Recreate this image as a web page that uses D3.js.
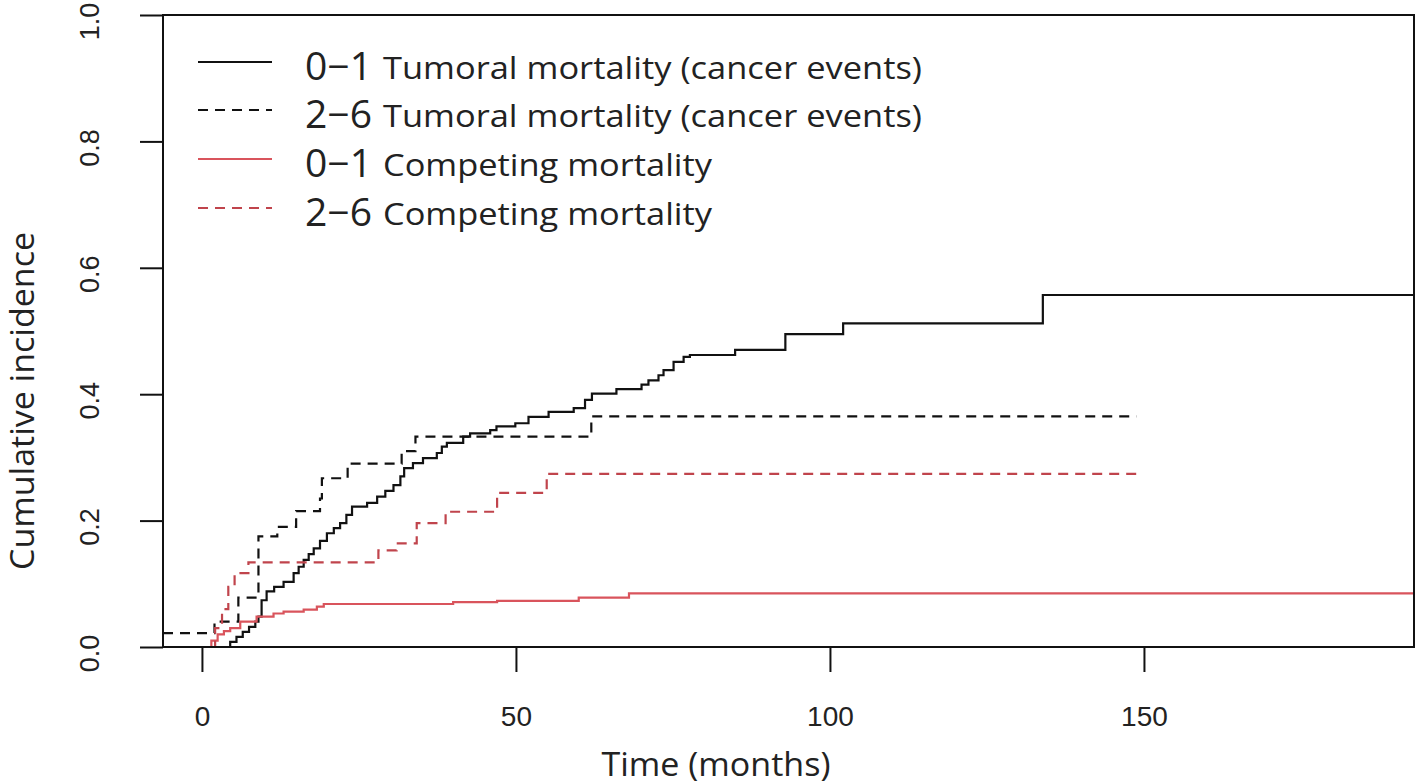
<!DOCTYPE html>
<html>
<head>
<meta charset="utf-8">
<script src="https://cdn.jsdelivr.net/npm/d3@7"></script>
<style>
  body { margin: 0; background: #fff; }
  svg { display: block; }
</style>
</head>
<body>
<svg id="chart" width="1418" height="784"></svg>
<script>
// step curves: [time in months, cumulative incidence]
const tumoral01 = [
  [3.5, 0], [4.5, 0.008], [5.5, 0.016], [6.5, 0.024], [7.5, 0.032], [8.5, 0.04],
  [9.0, 0.048], [9.5, 0.074], [10.3, 0.088], [11.5, 0.095], [13, 0.103],
  [14.6, 0.117], [15.4, 0.127], [16.2, 0.138], [17.0, 0.147], [17.8, 0.156],
  [18.8, 0.168], [19.9, 0.18], [21, 0.188], [22, 0.196], [23, 0.209],
  [23.9, 0.222], [26.3, 0.228], [27.9, 0.238], [29.2, 0.247], [30.5, 0.256],
  [31.6, 0.27], [32.2, 0.283], [33.6, 0.291], [35.2, 0.299], [37.4, 0.307],
  [38.2, 0.317], [39, 0.323], [41.6, 0.333], [42.7, 0.338], [45.9, 0.343],
  [46.9, 0.349], [49.9, 0.354], [52, 0.364], [55.2, 0.372], [59.2, 0.378],
  [61, 0.391], [62.1, 0.401], [66, 0.408], [70, 0.415], [71.1, 0.422],
  [72.7, 0.43], [73.5, 0.438], [75.1, 0.451], [76.7, 0.459], [77.7, 0.462],
  [84.9, 0.47], [92.9, 0.495], [102.1, 0.512], [133.9, 0.557], [193, 0.557]
];
const tumoral26 = [
  [-6.2, 0.022], [2.0, 0.04], [5.8, 0.078], [9.0, 0.175], [12, 0.19],
  [15, 0.215], [18.8, 0.235], [19.1, 0.267], [23.2, 0.29], [31.8, 0.31],
  [34, 0.333], [62, 0.365], [148.8, 0.365]
];
const competing01 = [
  [0, 0], [1.5, 0.01], [2.5, 0.02], [3.5, 0.025], [4.5, 0.03], [6.1, 0.04],
  [8.7, 0.048], [11.4, 0.053], [13, 0.056], [16.2, 0.059], [18.3, 0.064],
  [19.4, 0.068], [40, 0.071], [47, 0.073], [60, 0.078], [68, 0.085], [193, 0.085]
];
const competing26 = [
  [1.5, 0], [2.1, 0.03], [3.2, 0.06], [4.2, 0.095], [5.2, 0.117], [7.4, 0.134],
  [28.1, 0.153], [31, 0.164], [34.2, 0.196], [38.8, 0.214], [47, 0.244],
  [54.9, 0.274], [148.8, 0.274]
];

const groups = ["0\u22121", "2\u22126", "0\u22121", "2\u22126"];
const causes = [
  "Tumoral mortality (cancer events)",
  "Tumoral mortality (cancer events)",
  "Competing mortality",
  "Competing mortality"
];
const xTicks = [0, 50, 100, 150];
const yTicks = [0, 0.2, 0.4, 0.6, 0.8, 1.0];

const series = [
  { values: tumoral01, color: "#111", dash: null },
  { values: tumoral26, color: "#111", dash: "10,7" },
  { values: competing01, color: "#d9545c", dash: null },
  { values: competing26, color: "#c0444c", dash: "10,7" }
];

const svg = d3.select("#chart");
const plotLeft = 163, plotRight = 1414, plotTop = 15, plotBottom = 647;

const x = d3.scaleLinear().domain([-6.2, 193]).range([plotLeft, plotRight]);
const y = d3.scaleLinear().domain([0, 1]).range([plotBottom, plotTop]);

const tickFont = "'Liberation Sans', Arial, sans-serif";
const titleFont = "'Open Sans', 'Noto Sans', sans-serif";

svg.append("defs").append("clipPath").attr("id", "plot-clip")
  .append("rect")
  .attr("x", plotLeft).attr("y", plotTop)
  .attr("width", plotRight - plotLeft).attr("height", plotBottom - plotTop);

// y axis
const yAxis = svg.append("g")
  .attr("class", "y-axis")
  .attr("transform", `translate(${plotLeft},0)`)
  .call(d3.axisLeft(y).tickValues(yTicks).tickSize(23).tickFormat(d3.format(".1f")));
yAxis.select(".domain").remove();
yAxis.selectAll("line").attr("stroke", "#111").attr("stroke-width", 2);
// labels sit a few px below their ticks in the source
yAxis.selectAll("text")
  .attr("transform", "rotate(-90)")
  .attr("x", -6)
  .attr("y", -73)
  .attr("dy", null)
  .attr("dominant-baseline", "central")
  .attr("text-anchor", "middle")
  .attr("fill", "#222")
  .style("font-family", tickFont)
  .style("font-size", "27px");

// x axis
const xAxis = svg.append("g")
  .attr("class", "x-axis")
  .attr("transform", `translate(0,${plotBottom})`)
  .call(d3.axisBottom(x).tickValues(xTicks).tickSize(25).tickFormat(d3.format("d")));
xAxis.select(".domain").remove();
xAxis.selectAll("line").attr("stroke", "#111").attr("stroke-width", 2);
xAxis.selectAll("text")
  .attr("y", 69)
  .attr("dy", null)
  .attr("dominant-baseline", "central")
  .attr("fill", "#222")
  .style("font-family", tickFont)
  .style("font-size", "28px");

// axis titles
svg.append("text")
  .attr("x", 716).attr("y", 763)
  .attr("text-anchor", "middle")
  .attr("dominant-baseline", "central")
  .attr("fill", "#222")
  .style("font-family", titleFont)
  .style("font-size", "32px")
  .attr("textLength", 229).attr("lengthAdjust", "spacingAndGlyphs")
  .text("Time (months)");

svg.append("text")
  .attr("transform", "translate(21,401) rotate(-90)")
  .attr("text-anchor", "middle")
  .attr("dominant-baseline", "central")
  .attr("fill", "#222")
  .style("font-family", titleFont)
  .style("font-size", "32px")
  .attr("textLength", 338).attr("lengthAdjust", "spacingAndGlyphs")
  .text("Cumulative incidence");

// curves
const line = d3.line()
  .curve(d3.curveStepAfter)
  .x((d) => x(d[0]))
  .y((d) => y(d[1]));

svg.append("g")
  .attr("clip-path", "url(#plot-clip)")
  .selectAll(".curve")
  .data(series)
  .join("path")
  .attr("class", "curve")
  .attr("d", (d) => line(d.values))
  .attr("fill", "none")
  .attr("stroke", (d) => d.color)
  .attr("stroke-width", 2.2)
  .attr("stroke-dasharray", (d) => d.dash);

// plot box
svg.append("rect")
  .attr("x", plotLeft).attr("y", plotTop)
  .attr("width", plotRight - plotLeft).attr("height", plotBottom - plotTop)
  .attr("fill", "none")
  .attr("stroke", "#111")
  .attr("stroke-width", 2);

// legend
const legendRows = [62, 110, 159, 208];
const legend = svg.append("g")
  .attr("class", "legend")
  .selectAll("g")
  .data(series)
  .join("g")
  .attr("transform", (d, i) => `translate(0,${legendRows[i]})`);

legend.append("line")
  .attr("x1", 198).attr("x2", 272)
  .attr("y1", 0).attr("y2", 0)
  .attr("stroke", (d) => d.color)
  .attr("stroke-width", 2.2)
  .attr("stroke-dasharray", (d) => d.dash);

legend.append("text")
  .attr("x", 305).attr("y", 3)
  .attr("dominant-baseline", "central")
  .attr("fill", "#222")
  .style("font-family", titleFont)
  .style("font-size", "38px")
  .attr("textLength", 67).attr("lengthAdjust", "spacingAndGlyphs")
  .text((d, i) => groups[i]);

legend.append("text")
  .attr("x", 383).attr("y", 5)
  .attr("dominant-baseline", "central")
  .attr("fill", "#222")
  .style("font-family", titleFont)
  .style("font-size", "31px")
  .attr("textLength", (d, i) => (i < 2 ? 539 : 329))
  .attr("lengthAdjust", "spacingAndGlyphs")
  .text((d, i) => causes[i]);
</script>
</body>
</html>
